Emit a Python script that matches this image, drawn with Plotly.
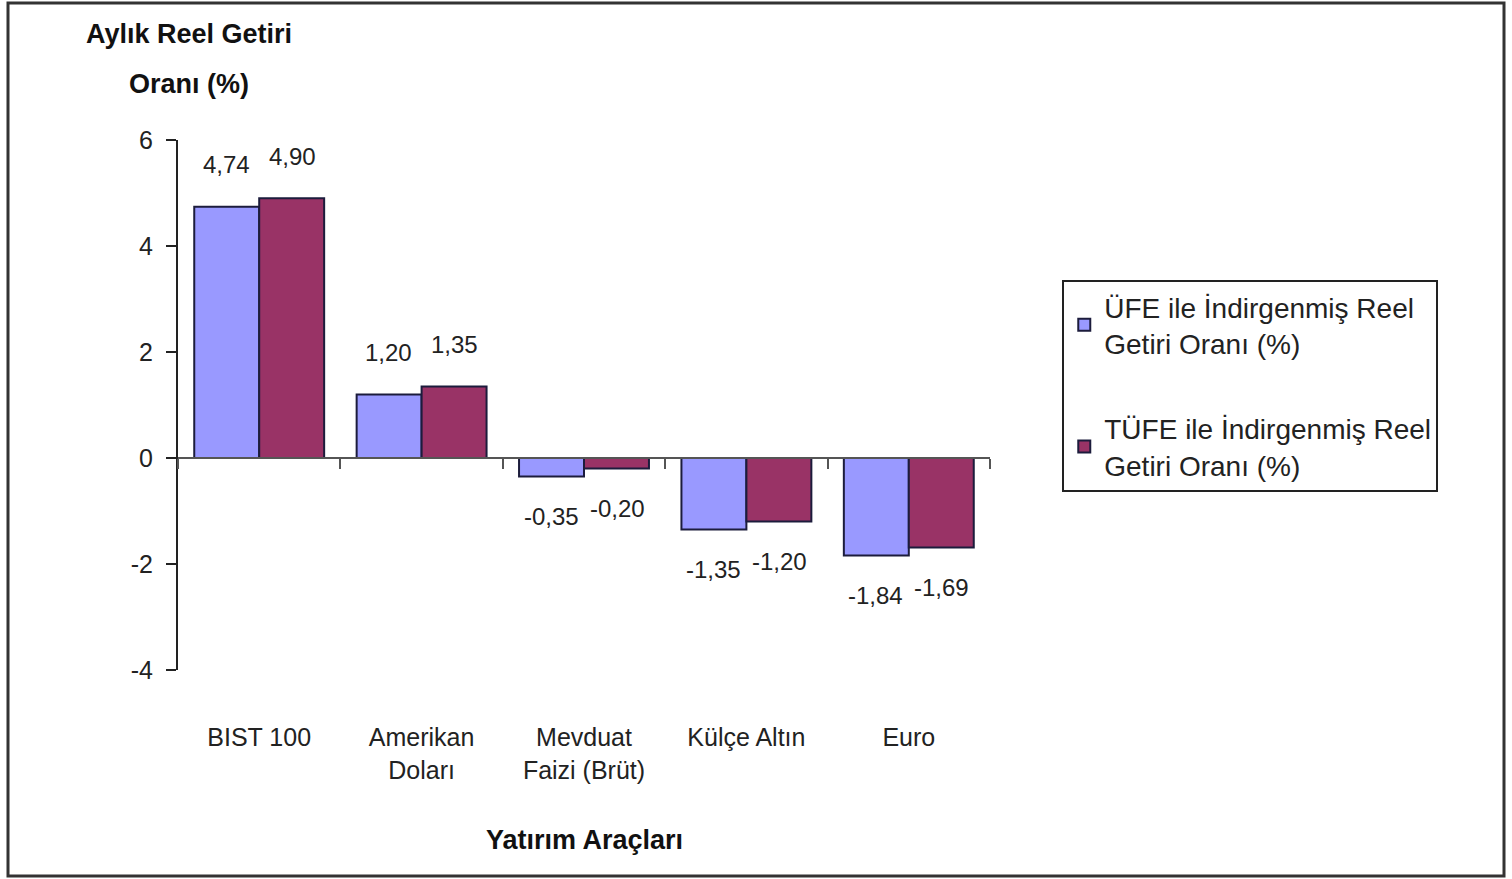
import plotly.graph_objects as go

categories = ["BIST 100", "Amerikan<br>Doları", "Mevduat<br>Faizi (Brüt)", "Külçe Altın", "Euro"]
ufe_values = [4.74, 1.20, -0.35, -1.35, -1.84]
tufe_values = [4.90, 1.35, -0.20, -1.20, -1.69]
series_names = ["ÜFE ile İndirgenmiş Reel<br>Getiri Oranı (%)",
                "TÜFE ile İndirgenmiş Reel<br>Getiri Oranı (%)"]
y_ticks = [-4, -2, 0, 2, 4, 6]
y_tick_text = ["-4", "-2", "0", "2", "4", "6"]

FONT = "Liberation Sans Narrow, Liberation Sans, Arial, sans-serif"
BLUE = "#9999FF"
RED = "#993366"
OUTLINE = "#1c1c3c"

fig = go.Figure()
fig.add_trace(go.Bar(x=categories, y=ufe_values, name=series_names[0],
                     marker=dict(color=BLUE, line=dict(color=OUTLINE, width=2)),
                     legendgroup="a", hoverinfo="skip"))
fig.add_trace(go.Bar(x=categories, y=tufe_values, name=series_names[1],
                     marker=dict(color=RED, line=dict(color=OUTLINE, width=2)),
                     legendgroup="b", hoverinfo="skip"))
# invisible helper trace that carries the zero-level category axis
fig.add_trace(go.Scatter(x=categories, y=ufe_values, xaxis="x2", mode="markers",
                         marker=dict(opacity=0), showlegend=False, hoverinfo="skip"))

# data labels
for vals, shift in ((ufe_values, -33), (tufe_values, 33)):
    for c, v in zip(categories, vals):
        fig.add_annotation(x=c, y=v, xref="x", yref="y",
                           text=f"{v:.2f}".replace(".", ","),
                           showarrow=False, xshift=shift,
                           yshift=42 if v >= 0 else -40,
                           font=dict(family=FONT, size=24, color="#222"))

# y-axis title (two lines)
fig.add_annotation(text="<b>Aylık Reel Getiri</b>", x=0.0135, y=1.2, xref="paper", yref="paper",
                   showarrow=False, xanchor="center", yanchor="middle",
                   font=dict(family=FONT, size=27, color="#111"))
fig.add_annotation(text="<b>Oranı (%)</b>", x=0.0135, y=1.106, xref="paper", yref="paper",
                   showarrow=False, xanchor="center", yanchor="middle",
                   font=dict(family=FONT, size=27, color="#111"))
# x-axis title
fig.add_annotation(text="<b>Yatırım Araçları</b>", x=0.5, y=-0.32, xref="paper", yref="paper",
                   showarrow=False, xanchor="center", yanchor="middle",
                   font=dict(family=FONT, size=27, color="#111"))

# outer frame
fig.add_shape(type="rect", xref="paper", yref="paper",
              x0=(8 - 178) / 812, x1=(1504 - 178) / 812,
              y0=(670 - 876) / 530, y1=(670 - 3) / 530,
              line=dict(color="#333333", width=3))

fig.update_layout(
    width=1512, height=879,
    margin=dict(l=178, r=522, t=140, b=209),
    paper_bgcolor="white", plot_bgcolor="white",
    barmode="group", bargap=0.2, bargroupgap=0,
    separators=",.",
    font=dict(family=FONT, size=24, color="#222"),
    legend=dict(x=1.089, y=0.736, xanchor="left", yanchor="top",
                bordercolor="#222", borderwidth=2, bgcolor="white",
                font=dict(family=FONT, size=28, color="#222"),
                tracegroupgap=46, itemsizing="constant"),
    xaxis=dict(type="category", categoryarray=categories, range=[-0.5, 4.5],
               showline=False, showgrid=False, zeroline=False,
               ticks="outside", ticklen=45, tickcolor="rgba(0,0,0,0)",
               tickfont=dict(family=FONT, size=25, color="#222")),
    xaxis2=dict(type="category", categoryarray=categories, range=[-0.5, 4.5],
                overlaying="x", anchor="free", position=0.4, side="bottom",
                showline=True, linecolor="#555", linewidth=2,
                ticks="outside", tickson="boundaries", ticklen=10, tickcolor="#555", tickwidth=2,
                showticklabels=False, showgrid=False, zeroline=False),
    yaxis=dict(range=[-4, 6], tickvals=y_ticks, ticktext=y_tick_text,
               showgrid=False, zeroline=False,
               showline=True, linecolor="#222", linewidth=2,
               ticks="outside", ticklen=10, tickcolor="#222", tickwidth=2,
               ticklabelstandoff=8,
               tickfont=dict(family=FONT, size=25, color="#222")),
)

fig.write_html("out.html", config={"displayModeBar": False},
               post_script="document.body.style.margin='0';document.body.style.overflow='hidden';")
